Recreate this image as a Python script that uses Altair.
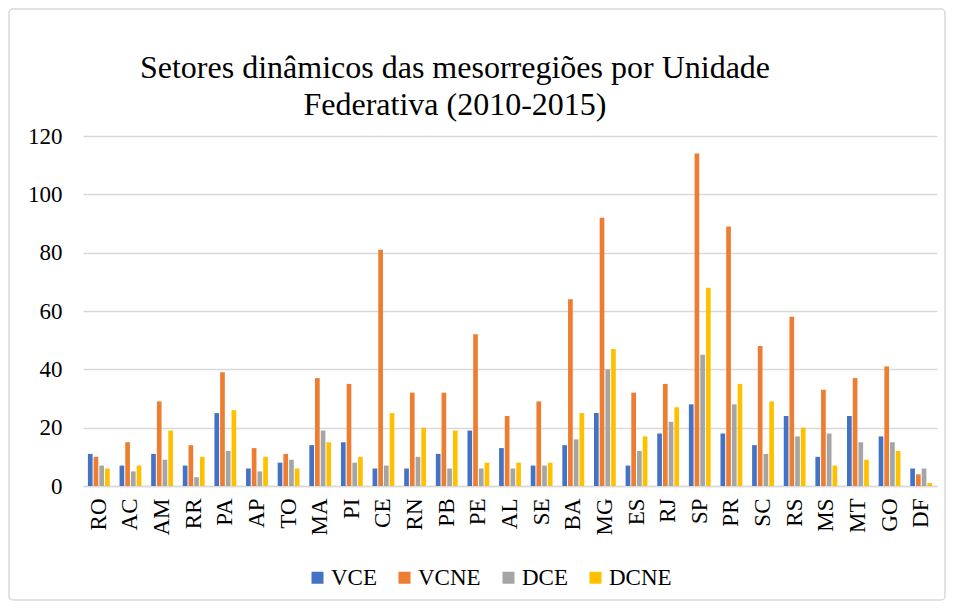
import altair as alt
import pandas as pd

states = ["RO", "AC", "AM", "RR", "PA", "AP", "TO", "MA", "PI", "CE", "RN", "PB", "PE", "AL",
          "SE", "BA", "MG", "ES", "RJ", "SP", "PR", "SC", "RS", "MS", "MT", "GO", "DF"]
vce = [11, 7, 11, 7, 25, 6, 8, 14, 15, 6, 6, 11, 19, 13, 7, 14, 25, 7, 18, 28, 18, 14, 24, 10, 24, 17, 6]
vcne = [10, 15, 29, 14, 39, 13, 11, 37, 35, 81, 32, 32, 52, 24, 29, 64, 92, 32, 35, 114, 89, 48, 58, 33, 37, 41, 4]
dce = [7, 5, 9, 3, 12, 5, 9, 19, 8, 7, 10, 6, 6, 6, 7, 16, 40, 12, 22, 45, 28, 11, 17, 18, 15, 15, 6]
dcne = [6, 7, 19, 10, 26, 10, 6, 15, 10, 25, 20, 19, 8, 8, 8, 25, 47, 17, 27, 68, 35, 29, 20, 7, 9, 12, 1]

series = ["VCE", "VCNE", "DCE", "DCNE"]
colors = ["#4472C4", "#ED7D31", "#A5A5A5", "#FFC000"]
title_lines = ["Setores dinâmicos das mesorregiões por Unidade", "Federativa (2010-2015)"]
y_ticks = [0, 20, 40, 60, 80, 100, 120]

rows = []
for name, vals in zip(series, [vce, vcne, dce, dcne]):
    for st, v in zip(states, vals):
        rows.append({"UF": st, "serie": name, "valor": v})
df = pd.DataFrame(rows)

FONT = "Liberation Serif"

bars = alt.Chart(df).mark_bar().encode(
    x=alt.X("UF:N", sort=states, title=None,
            scale=alt.Scale(paddingInner=0.31, paddingOuter=0.155),
            axis=alt.Axis(labelAngle=-90, labelFontSize=23, labelFont=FONT, labelColor="#000000",
                          labelPadding=12, ticks=False, domainColor="#d9d9d9", domainWidth=1.5,
                          grid=False)),
    xOffset=alt.XOffset("serie:N", sort=series,
                        scale=alt.Scale(paddingInner=0.18, paddingOuter=0)),
    y=alt.Y("valor:Q", title=None,
            scale=alt.Scale(domain=[0, 120], nice=False),
            axis=alt.Axis(values=y_ticks, labelFontSize=23, labelFont=FONT, labelColor="#000000",
                          labelPadding=21, ticks=False, domain=False, gridColor="#d9d9d9",
                          gridWidth=1.5, minExtent=62, maxExtent=62)),
    color=alt.Color("serie:N", sort=series,
                    scale=alt.Scale(domain=series, range=colors),
                    legend=alt.Legend(title=None, orient="none", legendX=223, legendY=430,
                                      direction="horizontal", columns=4, symbolType="square",
                                      symbolSize=144, symbolStrokeWidth=0, labelFontSize=23,
                                      labelFont=FONT, labelColor="#000000", labelOffset=2,
                                      columnPadding=16)),
)

# outer chart frame (decoration, like the spreadsheet chart border)
frame = alt.Chart(pd.DataFrame({"k": [0]})).mark_rect(
    fill="transparent", stroke="#d9d9d9", strokeWidth=1.5, cornerRadius=4
).encode(
    x=alt.value(-74), x2=alt.value(862), y=alt.value(-127), y2=alt.value(464)
)

chart = alt.layer(frame, bars).properties(
    width=854,
    height=350,
    title=alt.TitleParams(text=title_lines, font=FONT, fontSize=32, fontWeight="normal",
                          color="#000000", lineHeight=37, anchor="middle", dx=-55, offset=-114),
    padding={"left": 0, "top": 0, "right": 0, "bottom": 0},
).configure(
    font=FONT
).configure_title(
    font=FONT, fontWeight="normal"
).configure_legend(
    labelFont=FONT
).configure_view(stroke=None)

chart.save("out.html", embed_options={"renderer": "svg", "actions": False})
